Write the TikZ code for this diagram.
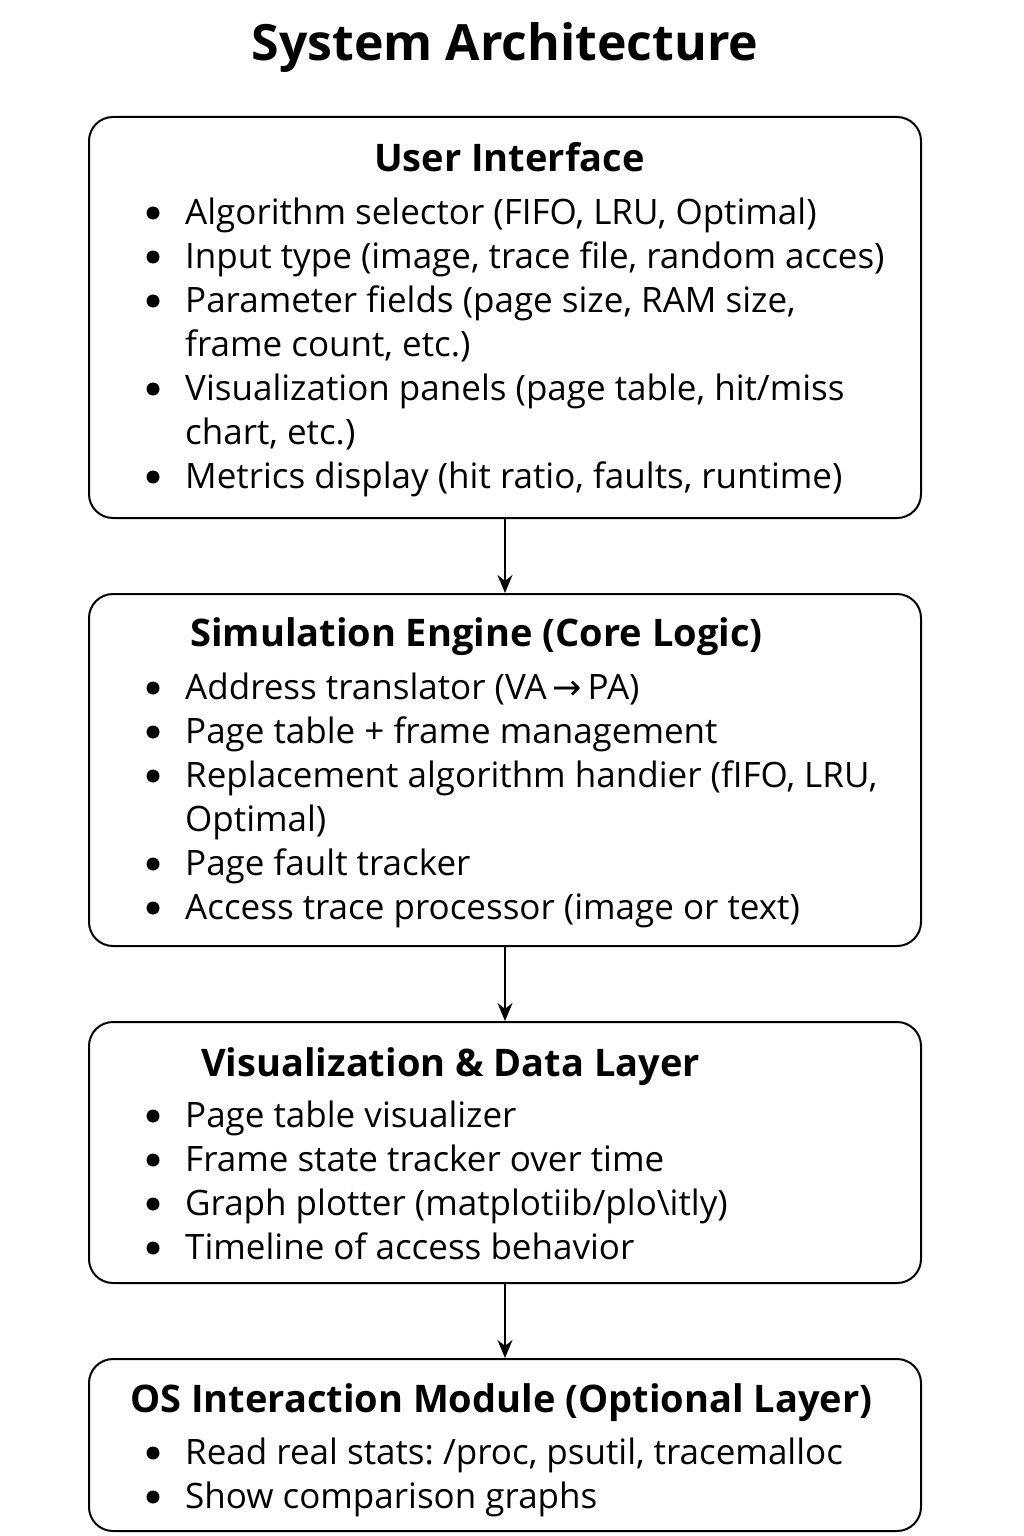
\documentclass[tikz,border=0pt]{standalone}
\usepackage{fontspec}
\setmainfont{Open Sans}
\newfontfamily\symfont{DejaVu Sans}
\usetikzlibrary{arrows.meta}
\frenchspacing
\begin{document}
\begin{tikzpicture}[x=1pt,y=-1pt,
  layer/.style={draw=black,line width=2pt,rounded corners=24pt,fill=white,inner sep=0pt,minimum width=832pt},
  head/.style={anchor=base west,inner sep=0pt,font=\fontsize{38}{42}\selectfont\bfseries},
  item/.style={anchor=base west,inner sep=0pt,font=\fontsize{35}{40}\selectfont},
  dot/.style={circle,fill=black,inner sep=0pt,minimum size=13pt},
  flow/.style={draw=black,line width=2pt,-{Stealth[length=18pt,width=15pt]}}]
\useasboundingbox (0,0) rectangle (1024,1536);
\fill[white] (0,0) rectangle (1024,1536);

\node[anchor=base,inner sep=0pt,font=\fontsize{50}{56}\selectfont\bfseries] (title) at (505,61) {System Architecture};

% layer boxes
\node[layer,minimum height=401pt] (ui) at (505,317.5) {};
\node[layer,minimum height=352pt] (sim) at (505,770) {};
\node[layer,minimum height=261pt] (vis) at (505,1152.5) {};
\node[layer,minimum height=172pt] (os) at (505,1445) {};

% connectors
\draw[flow] (ui.south) -- (sim.north);
\draw[flow] (sim.south) -- (vis.north);
\draw[flow] (vis.south) -- (os.north);

% User Interface
\node[head] (uih) at (374,171) {User Interface};
\node[item] (ui1) at (185,224) {Algorithm selector (FIFO, LRU, Optimal)};
\node[item] (ui2) at (185,268) {Input type (image, trace file, random acces)};
\node[item] (ui3) at (185,312) {Parameter fields (page size, RAM size,};
\node[item] (ui3b) at (185,356) {frame count, etc.)};
\node[item] (ui4) at (185,400) {Visualization panels (page table, hit/miss};
\node[item] (ui4b) at (185,444) {chart, etc.)};
\node[item] (ui5) at (185,488) {Metrics display (hit ratio, faults, runtime)};
\foreach \y/\n in {213/a,257/b,301/c,389/d,477/e} \node[dot] (uid\n) at (153,\y) {};

% Simulation Engine
\node[head] (simh) at (190,646) {Simulation Engine (Core Logic)};
\node[item] (sim1) at (185,699) {Address translator (VA\,{\symfont →}\,PA)};
\node[item] (sim2) at (185,743) {Page table + frame management};
\node[item] (sim3) at (185,787) {Replacement algorithm handier (fIFO, LRU,};
\node[item] (sim3b) at (185,831) {Optimal)};
\node[item] (sim4) at (185,875) {Page fault tracker};
\node[item] (sim5) at (185,919) {Access trace processor (image or text)};
\foreach \y/\n in {688/a,732/b,776/c,864/d,908/e} \node[dot] (simd\n) at (153,\y) {};

% Visualization & Data Layer
\node[head] (vish) at (201,1076) {Visualization \& Data Layer};
\node[item] (vis1) at (185,1127) {Page table visualizer};
\node[item] (vis2) at (185,1171) {Frame state tracker over time};
\node[item] (vis3) at (185,1215) {Graph plotter (matplotiib/plo\textbackslash itly)};
\node[item] (vis4) at (185,1259) {Timeline of access behavior};
\foreach \y/\n in {1116/a,1160/b,1204/c,1248/d} \node[dot] (visd\n) at (153,\y) {};

% OS Interaction Module
\node[head] (osh) at (130,1412) {OS Interaction Module (Optional Layer)};
\node[item] (os1) at (185,1464) {Read real stats: /proc, psutil, tracemalloc};
\node[item] (os2) at (185,1508) {Show comparison graphs};
\foreach \y/\n in {1453/a,1497/b} \node[dot] (osd\n) at (153,\y) {};
\end{tikzpicture}
\end{document}
